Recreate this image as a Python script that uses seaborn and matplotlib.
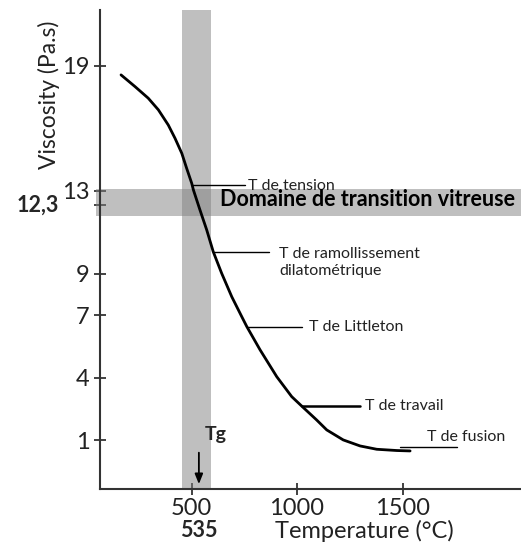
import numpy as np
import pandas as pd
import matplotlib
matplotlib.use("Agg")
import matplotlib.pyplot as plt
import seaborn as sns

# ---- data ----
temperature = [166, 232, 295, 343, 390, 422, 454, 477, 501, 509, 540, 572, 603, 643, 691, 738,
               762, 825, 904, 975, 1022, 1093, 1141, 1219, 1299, 1378, 1473, 1536]
viscosity = [18.56, 18.00, 17.44, 16.88, 16.15, 15.51, 14.79, 14.07, 13.35, 13.03, 12.07, 11.11,
             10.06, 9.02, 7.89, 6.94, 6.46, 5.34, 4.05, 3.09, 2.64, 1.97, 1.49, 1.01, 0.72, 0.56,
             0.50, 0.48]

x_ticks = [500, 1000, 1500]
y_ticks = [1, 4, 7, 9, 13, 19]
tg = 535
tg_band = (455, 592)
glass_visc = 12.3
glass_band = (11.78, 13.08)

# annotations
ann_labels = ["T de tension", "T de ramollissement\ndilatométrique", "T de Littleton", "T de travail"]
ann_curve_T = [502, 603, 762, 1022]
ann_curve_v = [13.27, 10.06, 6.43, 2.64]
ann_end_T = [754, 867, 1024, 1299]
ann_text_T = [768, 915, 1057, 1322]
ann_text_v = [13.2, 9.55, 6.43, 2.64]
ann_lw = [1.0, 1.0, 1.0, 1.8]

fusion_line_T = (1488, 1758)
fusion_line_v = 0.67
fusion_text = (1616, 1.15)

df = pd.DataFrame({"Temperature": temperature, "Viscosity": viscosity})

sns.set_theme(style="white")
plt.rcParams["font.family"] = ["Lato", "DejaVu Sans"]

fig = plt.figure(figsize=(5.21, 5.45), dpi=100)
ax = fig.add_axes([100 / 521, 56 / 545, 421 / 521, 479 / 545])

xlim = (1000 - 197 / 0.211, 1000 + 224 / 0.211)
ylim = (-1.35, 21.68)

# bands
ax.axvspan(*tg_band, color="#808080", alpha=0.5, lw=0, zorder=1)
ax.axhspan(*glass_band, xmin=-0.01, xmax=1.0, color="#808080", alpha=0.5, lw=0, zorder=1, clip_on=False)

# curve
sns.lineplot(data=df, x="Temperature", y="Viscosity", ax=ax, color="black", lw=2.0,
             sort=False, estimator=None, zorder=3)

# annotation lines + texts
for lab, cT, cv, eT, tT, tv, lw in zip(ann_labels, ann_curve_T, ann_curve_v, ann_end_T, ann_text_T, ann_text_v, ann_lw):
    ax.plot([cT, eT], [cv, cv], color="black", lw=lw, zorder=2)
    ax.text(tT, tv, lab, fontsize=11.5, ha="left", va="center", color="#222222", linespacing=1.25)

ax.plot(fusion_line_T, [fusion_line_v, fusion_line_v], color="black", lw=1.0, zorder=2)
ax.text(*fusion_text, "T de fusion", fontsize=11.5, ha="left", va="center", color="#222222")

ax.text(633, 12.55, "Domaine de transition vitreuse", fontsize=15.5, fontweight="bold",
        ha="left", va="center", color="black", clip_on=False)

# Tg arrow
ax.annotate("", xy=(tg, -1.25), xytext=(tg, 0.53),
            arrowprops=dict(arrowstyle="-|>,head_length=0.5,head_width=0.2", color="black", lw=1.3))
ax.text(tg + 30, 1.25, "Tg", fontsize=14, fontweight="bold", ha="left", va="center")

ax.set_xlim(*xlim)
ax.set_ylim(*ylim)

ax.set_xticks(x_ticks)
ax.set_xticklabels([str(t) for t in x_ticks])
ax.set_yticks(y_ticks + [glass_visc])
ax.set_yticklabels([str(t) for t in y_ticks] + [""])

ax.tick_params(axis="both", which="major", direction="inout", length=9, width=1.3,
               colors="#333333", labelsize=17, labelcolor="#222222", left=True, bottom=True)
ax.tick_params(axis="y", pad=3)
ax.tick_params(axis="x", pad=2)

ax.text(-0.098, glass_visc, "12,3", transform=ax.get_yaxis_transform(), fontsize=15.5,
        fontweight="bold", ha="right", va="center")
ax.text(tg, -0.087, "535", transform=ax.get_xaxis_transform(), fontsize=15.5,
        fontweight="bold", ha="center", va="center")

for s in ["top", "right"]:
    ax.spines[s].set_visible(False)
for s in ["left", "bottom"]:
    ax.spines[s].set_color("#333333")
    ax.spines[s].set_linewidth(1.5)

ax.set_xlabel("Temperature (°C)", fontsize=17, color="#222222")
ax.set_ylabel("Viscosity (Pa.s)", fontsize=16.5, color="#222222")
ax.xaxis.set_label_coords(0.627, -0.064)
ax.yaxis.set_label_coords(-0.095, 0.822)

fig.savefig("out.png", dpi=100)
